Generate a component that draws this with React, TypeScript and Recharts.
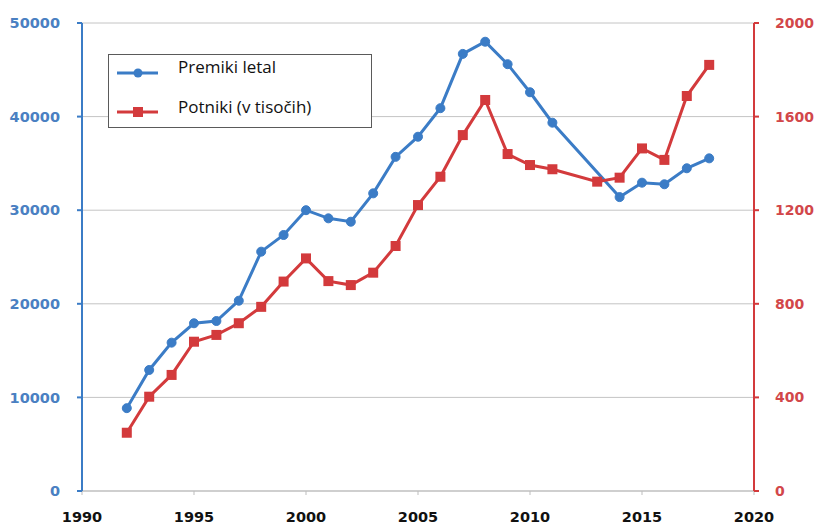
import {
  LineChart,
  Line,
  XAxis,
  YAxis,
  CartesianGrid,
  Legend,
} from "recharts";

const years = [
  1992, 1993, 1994, 1995, 1996, 1997, 1998, 1999, 2000, 2001, 2002, 2003, 2004,
  2005, 2006, 2007, 2008, 2009, 2010, 2011, 2012, 2013, 2014, 2015, 2016, 2017,
  2018,
];

// premiki letal (left axis) – no data for 2012, 2013
const flights = [
  8850, 12930, 15850, 17920, 18160, 20330, 25570, 27350, 30000, 29130, 28770,
  31800, 35700, 37850, 40900, 46700, 48000, 45600, 42600, 39350, null, null,
  31400, 32940, 32770, 34480, 35540,
];

// potniki v tisočih (right axis) – no data for 2012
const passengers = [
  249, 403, 496, 638, 667, 717, 787, 895, 994, 897, 880, 933, 1047, 1222, 1343,
  1521, 1671, 1440, 1393, 1375, null, 1322, 1339, 1464, 1415, 1688, 1821,
];

const xTicks = [1990, 1995, 2000, 2005, 2010, 2015, 2020];
const leftTicks = [0, 10000, 20000, 30000, 40000, 50000];
const rightTicks = [0, 400, 800, 1200, 1600, 2000];

const BLUE = "#3b7cc6";
const RED = "#d33a3c";
const FONT = "'DejaVu Sans', sans-serif";

const data = years.map((year, i) => ({
  year,
  flights: flights[i],
  passengers: passengers[i],
}));

const legendItems = [
  { label: "Premiki letal", color: BLUE, shape: "circle", lineY: 18, textTop: 0 },
  { label: "Potniki (v tisočih)", color: RED, shape: "square", lineY: 57, textTop: 40 },
];

function LegendBox() {
  return (
    <div
      style={{
        position: "relative",
        width: 264,
        height: 74,
        border: "1px solid #5a5a5a",
        background: "white",
        boxSizing: "border-box",
        fontFamily: "'Open Sans', sans-serif",
        fontSize: 17,
        lineHeight: "24px",
        color: "#111",
      }}
    >
      <svg width={60} height={72} style={{ position: "absolute", left: 0, top: 0 }}>
        {legendItems.map((item) => (
          <g key={item.label}>
            <line x1={8} y1={item.lineY} x2={49} y2={item.lineY} stroke={item.color} strokeWidth={3} />
            {item.shape === "circle" ? (
              <circle cx={29} cy={item.lineY} r={4.5} fill={item.color} />
            ) : (
              <rect x={24} y={item.lineY - 5} width={10} height={10} fill={item.color} />
            )}
          </g>
        ))}
      </svg>
      {legendItems.map((item) => (
        <span
          key={item.label}
          style={{ position: "absolute", left: 69, top: item.textTop, whiteSpace: "nowrap" }}
        >
          {item.label}
        </span>
      ))}
    </div>
  );
}

function SquareDot(props: any) {
  const { cx, cy, key, value } = props;
  if (value == null || cx == null || cy == null) return <g key={key} />;
  return <rect key={key} x={cx - 5} y={cy - 5} width={10} height={10} fill={RED} />;
}

export default function App() {
  return (
    <div style={{ position: "absolute", left: 0, top: 0, background: "white" }}>
      <LineChart
        width={817}
        height={524}
        data={data}
        margin={{ top: 23, right: 3, bottom: 3, left: 22 }}
      >
        <CartesianGrid
          yAxisId="left"
          vertical={false}
          stroke="#c4c4c4"
          strokeWidth={1}
        />
        <XAxis
          dataKey="year"
          type="number"
          domain={[1990, 2020]}
          ticks={xTicks}
          height={30}
          stroke="#bdbdbd"
          tickSize={4}
          tickMargin={17}
          tick={{ fill: "#111", fontSize: 14.5, fontWeight: "bold", fontFamily: FONT }}
        />
        <YAxis
          yAxisId="left"
          domain={[0, 50000]}
          ticks={leftTicks}
          width={60}
          stroke={BLUE}
          strokeWidth={2}
          tickSize={5}
          tickMargin={17}
          tick={{ fill: "#4a80c2", fontSize: 14.5, fontWeight: "bold", fontFamily: FONT }}
        />
        <YAxis
          yAxisId="right"
          orientation="right"
          domain={[0, 2000]}
          ticks={rightTicks}
          width={60}
          stroke={RED}
          strokeWidth={2}
          tickSize={5}
          tickMargin={16}
          tick={{ fill: "#d2474a", fontSize: 14, fontWeight: "bold", fontFamily: FONT }}
        />
        <Legend
          verticalAlign="middle"
          align="center"
          layout="horizontal"
          wrapperStyle={{ left: 108, top: 54, width: 264, height: 74 }}
          content={() => <LegendBox />}
        />
        <Line
          yAxisId="left"
          dataKey="flights"
          name="Premiki letal"
          stroke={BLUE}
          strokeWidth={3}
          dot={{ r: 4.5, fill: BLUE, stroke: BLUE, strokeWidth: 1 }}
          connectNulls
          isAnimationActive={false}
        />
        <Line
          yAxisId="right"
          dataKey="passengers"
          name="Potniki (v tisočih)"
          stroke={RED}
          strokeWidth={3}
          dot={SquareDot}
          connectNulls
          isAnimationActive={false}
        />
      </LineChart>
    </div>
  );
}
